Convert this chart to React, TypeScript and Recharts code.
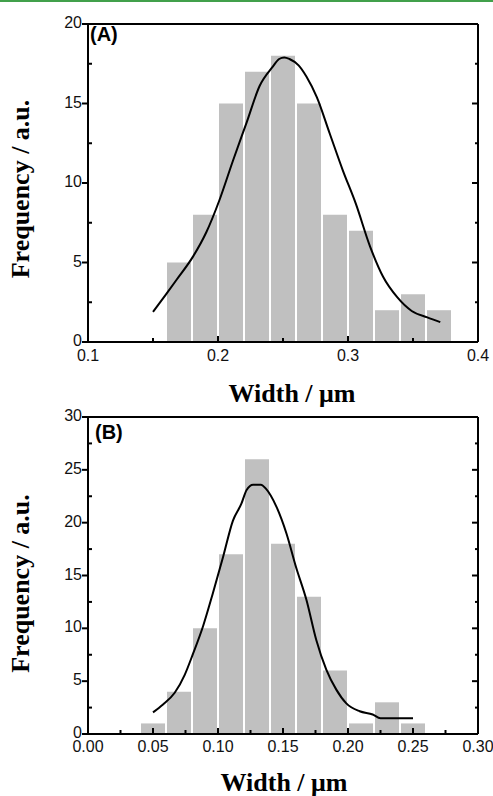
import React from 'react';
import { ComposedChart, Bar, Line, XAxis, YAxis, Label } from 'recharts';

// ---------- Panel A data ----------
const binCentersA = [0.17, 0.19, 0.21, 0.23, 0.25, 0.27, 0.29, 0.31, 0.33, 0.35, 0.37];
const countsA = [5, 8, 15, 17, 18, 15, 8, 7, 2, 3, 2];
const fitXA = [0.15, 0.16, 0.168, 0.181, 0.191, 0.201, 0.2115, 0.222, 0.232, 0.242, 0.247, 0.251, 0.255, 0.262, 0.268, 0.276, 0.286, 0.296, 0.306, 0.317, 0.327, 0.338, 0.349, 0.361, 0.371];
const fitYA = [1.9, 3.0, 3.9, 5.4, 6.9, 8.9, 11.4, 13.8, 16.1, 17.3, 17.8, 17.9, 17.8, 17.4, 16.7, 15.4, 13.1, 10.8, 8.7, 6.0, 4.1, 2.8, 1.95, 1.55, 1.25];
const xMajorA = [0.1, 0.2, 0.3, 0.4];
const xLabelA = ['0.1', '0.2', '0.3', '0.4'];
const xMinorA = [0.15, 0.25, 0.35];
const yMajorA = [0, 5, 10, 15, 20];
const yLabelA = ['0', '5', '10', '15', '20'];
const yMinorA = [2.5, 7.5, 12.5, 17.5];

// ---------- Panel B data ----------
const binCentersB = [0.05, 0.07, 0.09, 0.11, 0.13, 0.15, 0.17, 0.19, 0.21, 0.23, 0.25];
const countsB = [1, 4, 10, 17, 26, 18, 13, 6, 1, 3, 1];
const fitXB = [0.05, 0.0577, 0.0667, 0.0744, 0.0808, 0.0885, 0.096, 0.104, 0.1115, 0.118, 0.122, 0.127, 0.133, 0.137, 0.145, 0.1526, 0.16, 0.168, 0.1756, 0.1833, 0.191, 0.1987, 0.209, 0.219, 0.225, 0.25];
const fitYB = [2.05, 2.8, 3.9, 5.6, 7.6, 10.2, 13.3, 16.8, 20.2, 21.8, 23.1, 23.6, 23.6, 23.2, 21.5, 19.0, 15.8, 12.7, 8.9, 6.1, 4.2, 2.9, 2.15, 1.85, 1.5, 1.5];
const xMajorB = [0, 0.05, 0.1, 0.15, 0.2, 0.25, 0.3];
const xLabelB = ['0.00', '0.05', '0.10', '0.15', '0.20', '0.25', '0.30'];
const xMinorB = [0.025, 0.075, 0.125, 0.175, 0.225, 0.275];
const yMajorB = [0, 5, 10, 15, 20, 25, 30];
const yLabelB = ['0', '5', '10', '15', '20', '25', '30'];
const yMinorB = [2.5, 7.5, 12.5, 17.5, 22.5, 27.5];

const xTitle = 'Width / \u03bcm';
const yTitle = 'Frequency / a.u.';

const SANS = '"Liberation Sans", Arial, Helvetica, sans-serif';
const SERIF = '"Liberation Serif", "Times New Roman", Times, serif';

const findIdx = (arr: number[], v: number) => arr.findIndex((m) => Math.abs(m - v) < 1e-9);

const makeBottomTick = (majors: number[], labels: string[], labelDy: number) => (props: any) => {
  const { x, y, payload } = props;
  const idx = findIdx(majors, payload.value);
  const len = idx >= 0 ? 6 : 4;
  return (
    <g>
      <line x1={x} y1={y} x2={x} y2={y - len} stroke="#000" strokeWidth={2} />
      {idx >= 0 && (
        <text x={x} y={y + labelDy} textAnchor="middle" fontFamily={SANS} fontSize={16} fill="#111">
          {labels[idx]}
        </text>
      )}
    </g>
  );
};

const makeLeftTick = (majors: number[], labels: string[]) => (props: any) => {
  const { x, y, payload } = props;
  const idx = findIdx(majors, payload.value);
  return (
    <g>
      {idx >= 0 ? (
        <line x1={x - 6} y1={y} x2={x} y2={y} stroke="#000" strokeWidth={2} />
      ) : (
        <line x1={x} y1={y} x2={x + 4} y2={y} stroke="#000" strokeWidth={2} />
      )}
      {idx >= 0 && (
        <text x={x - 6} y={y + 4} textAnchor="end" fontFamily={SANS} fontSize={16} fill="#111">
          {labels[idx]}
        </text>
      )}
    </g>
  );
};

const makeRightTick = (majors: number[]) => (props: any) => {
  const { x, y, payload } = props;
  const idx = findIdx(majors, payload.value);
  const len = idx >= 0 ? 6 : 3;
  return <line x1={x} y1={y} x2={x - len} y2={y} stroke="#000" strokeWidth={2} />;
};

type PanelProps = {
  height: number;
  marginTop: number;
  xAxisHeight: number;
  centers: number[];
  counts: number[];
  fitX: number[];
  fitY: number[];
  xDomain: [number, number];
  yDomain: [number, number];
  xMajor: number[];
  xLabel: string[];
  xMinor: number[];
  yMajor: number[];
  yLabel: string[];
  yMinor: number[];
  panel: string;
  panelDx: number;
  panelDy: number;
  xLabelDy: number;
  xTitleDx: number;
  xTitleDy: number;
  yTitleDy: number;
};

const Panel = (p: PanelProps) => {
  const bars = p.centers.map((c, i) => ({ x: c, count: p.counts[i] }));
  const fit = p.fitX.map((x, i) => ({ x, y: p.fitY[i] }));
  const xTicks = [...p.xMajor, ...p.xMinor].sort((a, b) => a - b);
  const yTicks = [...p.yMajor, ...p.yMinor].sort((a, b) => a - b);
  return (
    <ComposedChart
      width={493}
      height={p.height}
      data={bars}
      margin={{ top: p.marginTop - 1, right: 14, bottom: 0, left: 0 }}
    >
      <XAxis
        xAxisId="x"
        type="number"
        dataKey="x"
        domain={p.xDomain}
        allowDataOverflow
        ticks={xTicks}
        interval={0}
        tickSize={0}
        tickMargin={0}
        tickLine={false}
        height={p.xAxisHeight}
        axisLine={{ stroke: '#000', strokeWidth: 2 }}
        tick={makeBottomTick(p.xMajor, p.xLabel, p.xLabelDy)}
      >
        <Label
          content={(lp: any) => {
            const vb = lp.viewBox;
            return (
              <text
                x={vb.x + vb.width / 2 + p.xTitleDx}
                y={vb.y + p.xTitleDy}
                textAnchor="middle"
                fontFamily={SERIF}
                fontWeight="bold"
                fontSize={26}
                fill="#000"
              >
                {xTitle}
              </text>
            );
          }}
        />
      </XAxis>
      <XAxis
        xAxisId="b"
        type="number"
        dataKey="x"
        domain={p.xDomain}
        allowDataOverflow
        ticks={p.centers}
        height={0}
        hide
      />
      <XAxis
        xAxisId="t"
        orientation="top"
        type="number"
        dataKey="x"
        domain={p.xDomain}
        allowDataOverflow
        height={1}
        tick={false}
        tickLine={false}
        axisLine={{ stroke: '#000', strokeWidth: 2 }}
      >
        <Label
          content={(lp: any) => {
            const vb = lp.viewBox;
            return (
              <text
                x={vb.x + p.panelDx}
                y={vb.y + 1 + p.panelDy}
                fontFamily={SANS}
                fontWeight="bold"
                fontSize={20}
                fill="#000"
              >
                {p.panel}
              </text>
            );
          }}
        />
      </XAxis>
      <YAxis
        yAxisId="l"
        type="number"
        domain={p.yDomain}
        allowDataOverflow
        ticks={yTicks}
        interval={0}
        width={88}
        tickSize={0}
        tickMargin={0}
        tickLine={false}
        axisLine={{ stroke: '#000', strokeWidth: 2 }}
        tick={makeLeftTick(p.yMajor, p.yLabel)}
      >
        <Label
          content={(lp: any) => {
            const vb = lp.viewBox;
            const cx = vb.x + 20;
            const cy = vb.y + vb.height / 2 + p.yTitleDy;
            return (
              <text
                x={cx}
                y={cy}
                transform={`rotate(-90, ${cx}, ${cy})`}
                textAnchor="middle"
                dominantBaseline="central"
                fontFamily={SERIF}
                fontWeight="bold"
                fontSize={26}
                fill="#000"
              >
                {yTitle}
              </text>
            );
          }}
        />
      </YAxis>
      <YAxis
        yAxisId="r"
        orientation="right"
        type="number"
        domain={p.yDomain}
        allowDataOverflow
        ticks={yTicks}
        interval={0}
        width={1}
        tickSize={0}
        tickMargin={0}
        tickLine={false}
        axisLine={{ stroke: '#000', strokeWidth: 2 }}
        tick={makeRightTick(p.yMajor)}
      />
      <Bar
        xAxisId="b"
        yAxisId="l"
        dataKey="count"
        fill="#c0c0c0"
        barSize={24}
        isAnimationActive={false}
      />
      <Line
        xAxisId="x"
        yAxisId="l"
        data={fit}
        dataKey="y"
        type="monotone"
        stroke="#000"
        strokeWidth={2}
        dot={false}
        activeDot={false}
        isAnimationActive={false}
      />
    </ComposedChart>
  );
};

export default function App() {
  return (
    <div
      style={{
        position: 'absolute',
        left: 0,
        top: 0,
        width: 493,
        height: 796,
        background: '#fff',
        overflow: 'hidden',
      }}
    >
      <div style={{ position: 'absolute', left: 0, top: 0, width: 493, height: 2, background: '#41a04b' }} />
      <div style={{ position: 'absolute', left: 0, top: 0 }}>
        <Panel
          height={410}
          marginTop={24}
          xAxisHeight={68}
          centers={binCentersA}
          counts={countsA}
          fitX={fitXA}
          fitY={fitYA}
          xDomain={[0.1, 0.4]}
          yDomain={[0, 20]}
          xMajor={xMajorA}
          xLabel={xLabelA}
          xMinor={xMinorA}
          yMajor={yMajorA}
          yLabel={yLabelA}
          yMinor={yMinorA}
          panel="(A)"
          panelDx={2}
          panelDy={17}
          xLabelDy={19}
          xTitleDx={9}
          xTitleDy={60}
          yTitleDy={6}
        />
      </div>
      <div style={{ position: 'absolute', left: 0, top: 400 }}>
        <Panel
          height={396}
          marginTop={17}
          xAxisHeight={62}
          centers={binCentersB}
          counts={countsB}
          fitX={fitXB}
          fitY={fitYB}
          xDomain={[0, 0.3]}
          yDomain={[0, 30]}
          xMajor={xMajorB}
          xLabel={xLabelB}
          xMinor={xMinorB}
          yMajor={yMajorB}
          yLabel={yLabelB}
          yMinor={yMinorB}
          panel="(B)"
          panelDx={7}
          panelDy={22}
          xLabelDy={18}
          xTitleDx={1}
          xTitleDy={57}
          yTitleDy={8}
        />
      </div>
    </div>
  );
}
